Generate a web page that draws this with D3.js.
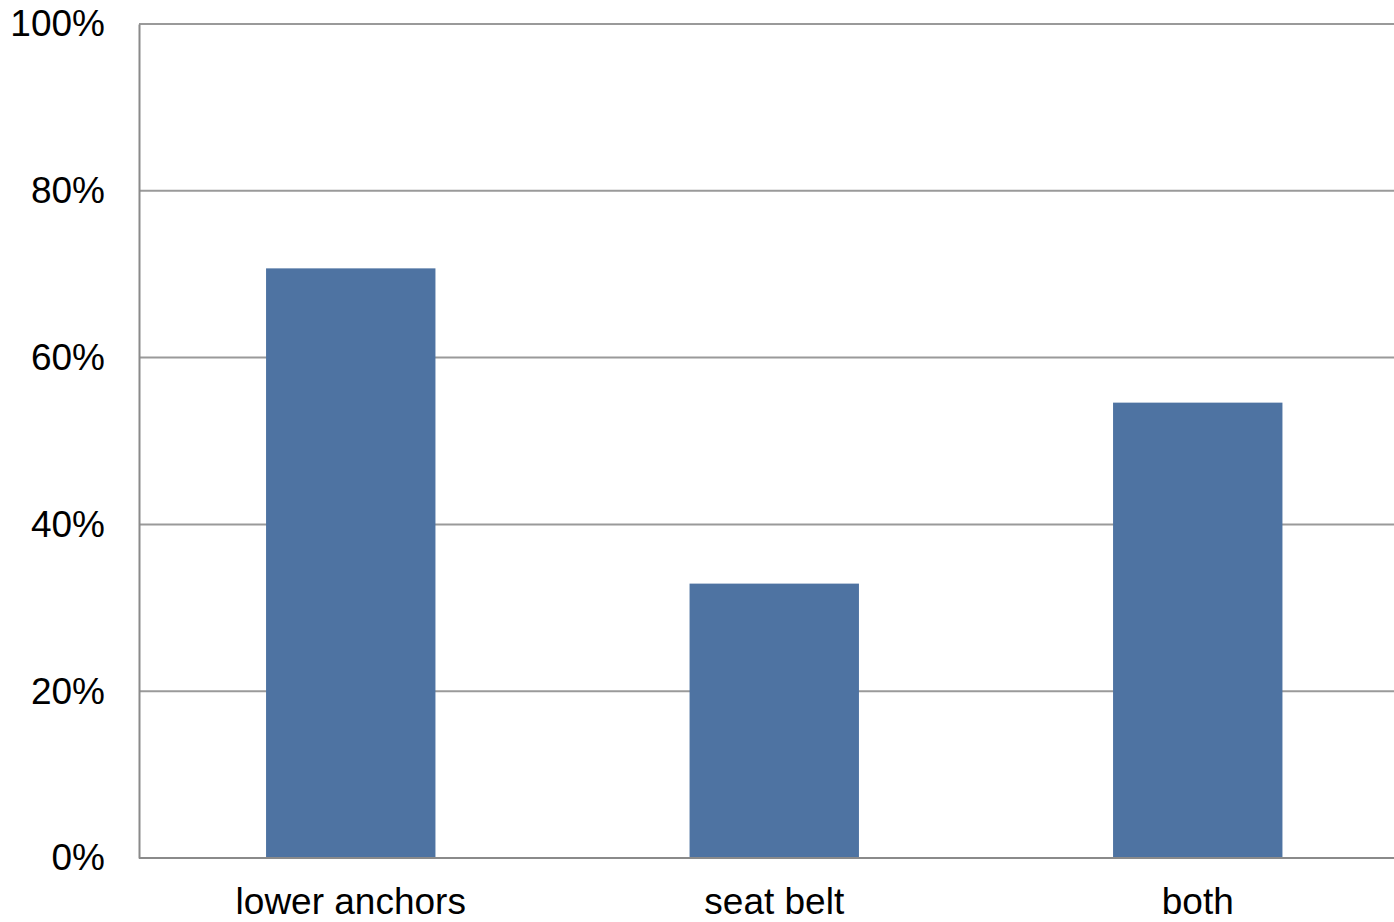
<!DOCTYPE html>
<html lang="en">
<head>
<meta charset="UTF-8">
<title>Bar chart</title>
<script src="https://cdn.jsdelivr.net/npm/d3@7"></script>
<style>
  html, body { margin: 0; padding: 0; background: #fff; overflow: hidden; }
</style>
</head>
<body>
<svg width="1394" height="922"></svg>
<script>
    // data
    var categories = ["lower anchors", "seat belt", "both"];
    var values = [0.707, 0.329, 0.546];
    var yTicks = [0, 0.2, 0.4, 0.6, 0.8, 1.0];

    var margin = {top: 24, left: 139, bottom: 64},
        height = 922,
        step = 423.5;

    var svg = d3.select("svg")
        .style("font-family", "'Liberation Sans', Arial, sans-serif");

    var x = d3.scaleBand()
        .domain(categories)
        .range([margin.left, margin.left + step * categories.length])
        .paddingInner(0.6)
        .paddingOuter(0.3);

    var y = d3.scaleLinear()
        .domain([0, 1])
        .range([height - margin.bottom, margin.top]);

    // gridlines
    svg.append("g")
        .selectAll("line")
        .data(yTicks.filter(d => d > 0))
        .join("line")
        .attr("x1", margin.left)
        .attr("x2", 1394)
        .attr("y1", d => y(d))
        .attr("y2", d => y(d))
        .attr("stroke", "#9a9a9a")
        .attr("stroke-width", 2);

    // bars
    svg.append("g")
        .attr("fill", "#4e73a2")
        .selectAll("rect")
        .data(values)
        .join("rect")
        .attr("x", (d, i) => x(categories[i]))
        .attr("width", x.bandwidth())
        .attr("y", d => y(d))
        .attr("height", d => y(0) - y(d));

    // y axis
    var yAxis = svg.append("g")
        .attr("transform", `translate(${margin.left},0)`)
        .call(d3.axisLeft(y).tickValues(yTicks).tickFormat(d3.format(".0%")).tickSize(0).tickPadding(34));
    yAxis.select(".domain").attr("stroke", "#8a8a8a").attr("stroke-width", 2);
    yAxis.selectAll("text").attr("font-size", 37).attr("fill", "#000").attr("font-family", null);

    // x axis
    var xAxis = svg.append("g")
        .attr("transform", `translate(0,${y(0)})`)
        .call(d3.axisBottom(x).tickSize(0).tickPadding(30));
    xAxis.select(".domain").attr("stroke", "#8a8a8a").attr("stroke-width", 2)
        .attr("d", `M${margin.left},0H1394`);
    xAxis.selectAll("text").attr("font-size", 37).attr("fill", "#000").attr("font-family", null);
</script>
</body>
</html>
